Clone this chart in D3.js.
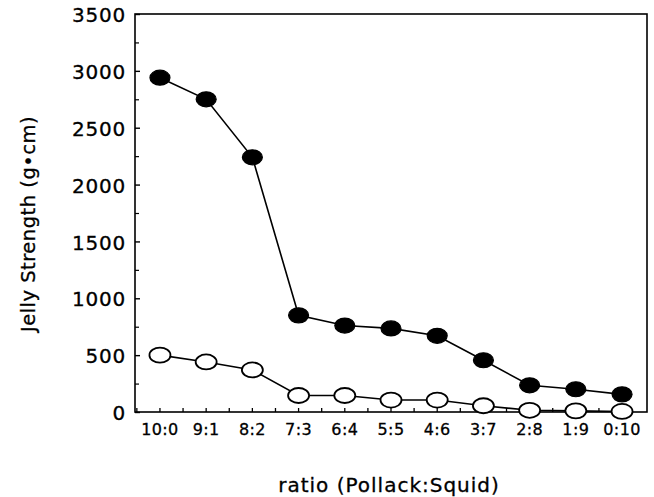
<!DOCTYPE html>
<html>
<head>
<meta charset="utf-8">
<script src="https://cdn.jsdelivr.net/npm/d3@7"></script>
<style>
  html, body { margin: 0; padding: 0; background: #fff; }
  svg text { font-family: "DejaVu Sans", sans-serif; fill: #000; stroke: #000; stroke-width: 0.3; }
</style>
</head>
<body>
<svg id="chart" width="654" height="497"></svg>
<script>
const categories = ["10:0", "9:1", "8:2", "7:3", "6:4", "5:5", "4:6", "3:7", "2:8", "1:9", "0:10"];
const filledValues = [2940, 2750, 2240, 850, 760, 735, 670, 455, 235, 200, 155];
const openValues = [500, 440, 370, 145, 145, 105, 105, 55, 15, 10, 5];
const yTicks = [0, 500, 1000, 1500, 2000, 2500, 3000, 3500];
const yMinorTicks = [250, 750, 1250, 1750, 2250, 2750, 3250];
const yTitle = "Jelly Strength (g•cm)";
const xTitle = "ratio (Pollack:Squid)";

(function () {
const svg = d3.select("#chart");
const pLeft = 135, pRight = 647, pTop = 14, pBottom = 412;

const x = d3.scalePoint().domain(categories).range([pLeft, pRight]).padding(0.54);
const y = d3.scaleLinear().domain([0, 3500]).range([pBottom, pTop]);

// frame
svg.append("rect").attr("x", pLeft).attr("y", pTop)
  .attr("width", pRight - pLeft).attr("height", pBottom - pTop)
  .attr("fill", "none").attr("stroke", "#000").attr("stroke-width", 1.6);

// y axis major ticks (inward)
const yAxis = d3.axisRight(y).tickValues(yTicks).tickSize(5).tickFormat("");
svg.append("g").attr("transform", `translate(${pLeft},0)`).call(yAxis)
  .call(g => g.select(".domain").remove())
  .call(g => g.selectAll("line").attr("stroke-width", 1.4));
const yAxisMinor = d3.axisRight(y).tickValues(yMinorTicks).tickSize(4).tickFormat("");
svg.append("g").attr("transform", `translate(${pLeft},0)`).call(yAxisMinor)
  .call(g => g.select(".domain").remove())
  .call(g => g.selectAll("line").attr("stroke-width", 1.2));

// y labels
svg.append("g").selectAll("text").data(yTicks).join("text")
  .attr("x", pLeft - 9).attr("y", d => y(d) + 1)
  .attr("dy", "0.36em").attr("text-anchor", "end")
  .attr("font-size", 20).attr("letter-spacing", 0.8)
  .text(d => d);

// x axis ticks (inward, at categories and midpoints)
const step = x.step();
const xTickPos = [];
categories.forEach((c, i) => {
  xTickPos.push(x(c));
  if (i < categories.length - 1) xTickPos.push(x(c) + step / 2);
});
xTickPos.push(x(categories[0]) - step / 2);
svg.append("g").selectAll("line").data(xTickPos).join("line")
  .attr("x1", d => d).attr("x2", d => d)
  .attr("y1", pBottom).attr("y2", pBottom - 4)
  .attr("stroke", "#000").attr("stroke-width", 1.3);

// x labels
svg.append("g").selectAll("text").data(categories).join("text")
  .attr("x", d => x(d)).attr("y", 435)
  .attr("text-anchor", "middle").attr("font-size", 16).attr("letter-spacing", 0.4)
  .text(d => d);

// lines
const line = d3.line().x((d, i) => x(categories[i])).y(d => y(d));
svg.append("path").datum(openValues).attr("d", line)
  .attr("fill", "none").attr("stroke", "#000").attr("stroke-width", 1.6);
svg.append("path").datum(filledValues).attr("d", line)
  .attr("fill", "none").attr("stroke", "#000").attr("stroke-width", 1.6);

// markers
svg.append("g").selectAll("ellipse").data(openValues).join("ellipse")
  .attr("cx", (d, i) => x(categories[i])).attr("cy", d => y(d))
  .attr("rx", 10.5).attr("ry", 7.5)
  .attr("fill", "#fff").attr("stroke", "#000").attr("stroke-width", 1.8);
svg.append("g").selectAll("ellipse").data(filledValues).join("ellipse")
  .attr("cx", (d, i) => x(categories[i])).attr("cy", d => y(d))
  .attr("rx", 10).attr("ry", 7.5)
  .attr("fill", "#000").attr("stroke", "#000").attr("stroke-width", 1.2);

// axis titles
svg.append("text")
  .attr("transform", `translate(35, 224) rotate(-90)`)
  .attr("text-anchor", "middle").attr("font-size", 19.5).attr("letter-spacing", 0.5)
  .text(yTitle);
svg.append("text")
  .attr("x", 389).attr("y", 492)
  .attr("text-anchor", "middle").attr("font-size", 20).attr("letter-spacing", 1)
  .text(xTitle);
})();
</script>
</body>
</html>
